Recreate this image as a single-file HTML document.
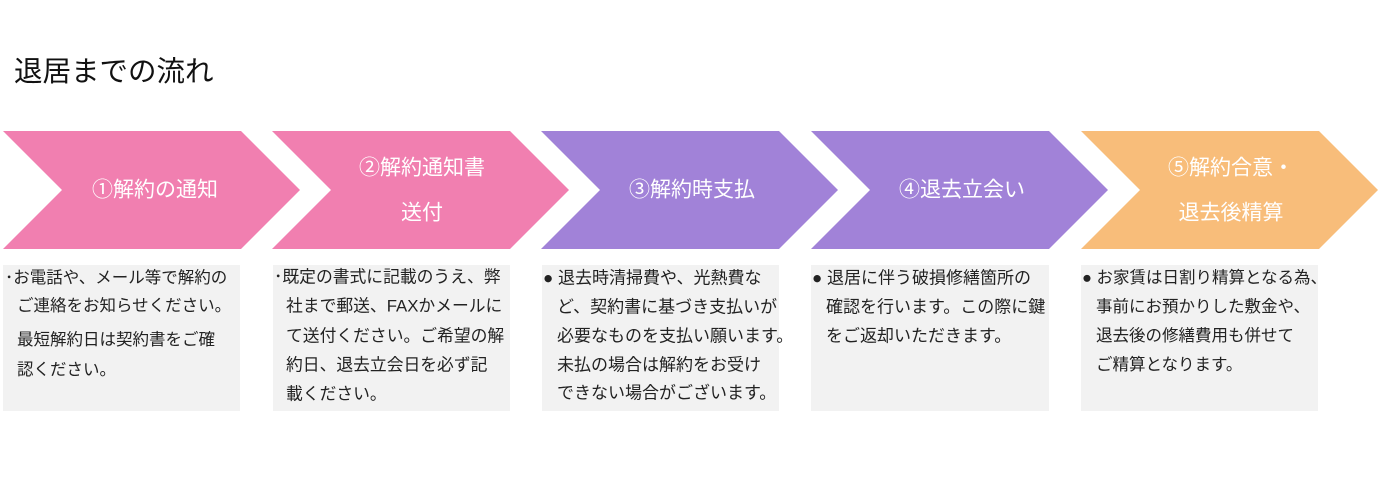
<!DOCTYPE html>
<html><head><meta charset="utf-8"><style>
body{margin:0;width:1392px;height:486px;background:#fff;position:relative;overflow:hidden;font-family:"Liberation Sans","Noto Sans CJK JP",sans-serif;}
.t{position:absolute;white-space:nowrap;line-height:1;}
.box{position:absolute;top:265px;height:146px;width:237px;background:#f2f2f2;}
.w{color:#fff;font-size:21px;transform:translate(-50%,-50%);}
.l{color:#222;transform:translateY(-50%);}
</style></head><body>
<div class="t" style="left:14px;top:58px;font-size:28.5px;color:#111;">退居までの流れ</div>
<svg width="1392" height="486" style="position:absolute;left:0;top:0">
<polygon points="3,131 241,131 300,190 241,249 3,249 62,190" fill="#f17fb0"/>
<polygon points="272,131 510,131 569,190 510,249 272,249 331,190" fill="#f17fb0"/>
<polygon points="541,131 779,131 838,190 779,249 541,249 600,190" fill="#a182d8"/>
<polygon points="811,131 1049,131 1108,190 1049,249 811,249 870,190" fill="#a182d8"/>
<polygon points="1081,131 1319,131 1378,190 1319,249 1081,249 1140,190" fill="#f8bd7a"/>
</svg>
<div class="t w" style="left:155px;top:190px">①解約の通知</div>
<div class="t w" style="left:422px;top:168px">②解約通知書</div>
<div class="t w" style="left:422px;top:213px">送付</div>
<div class="t w" style="left:692px;top:190px">③解約時支払</div>
<div class="t w" style="left:962px;top:190px">④退去立会い</div>
<div class="t w" style="left:1231px;top:168px">⑤解約合意・</div>
<div class="t w" style="left:1231px;top:213px">退去後精算</div>

<div class="box" style="left:3px"></div>
<div class="box" style="left:273px"></div>
<div class="box" style="left:542px"></div>
<div class="box" style="left:811px;width:238px"></div>
<div class="box" style="left:1081px"></div>

<div class="t l" style="left:5px;top:278px;font-size:16.5px">･お電話や、メール等で解約の</div>
<div class="t l" style="left:17px;top:306px;font-size:16.5px">ご連絡をお知らせください。</div>
<div class="t l" style="left:17px;top:340px;font-size:16.5px">最短解約日は契約書をご確</div>
<div class="t l" style="left:17px;top:370px;font-size:16.5px">認ください。</div>

<div class="t l" style="left:274px;top:278px;font-size:16.8px">･既定の書式に記載のうえ、弊</div>
<div class="t l" style="left:286px;top:307px;font-size:16.8px">社まで郵送、FAXかメールに</div>
<div class="t l" style="left:286px;top:337px;font-size:16.8px">て送付ください。ご希望の解</div>
<div class="t l" style="left:286px;top:366px;font-size:16.8px">約日、退去立会日を必ず記</div>
<div class="t l" style="left:286px;top:395px;font-size:16.8px">載ください。</div>

<div class="t l" style="left:543px;top:278px;font-size:17px">● 退去時清掃費や、光熱費な</div>
<div class="t l" style="left:557px;top:307px;font-size:17px">ど、契約書に基づき支払いが</div>
<div class="t l" style="left:557px;top:336px;font-size:17px">必要なものを支払い願います。</div>
<div class="t l" style="left:557px;top:365px;font-size:17px">未払の場合は解約をお受け</div>
<div class="t l" style="left:557px;top:393px;font-size:17px">できない場合がございます。</div>

<div class="t l" style="left:812px;top:278px;font-size:17px">● 退居に伴う破損修繕箇所の</div>
<div class="t l" style="left:826px;top:307px;font-size:17px">確認を行います。この際に鍵</div>
<div class="t l" style="left:826px;top:336px;font-size:17px">をご返却いただきます。</div>

<div class="t l" style="left:1082px;top:278px;font-size:16.5px">● お家賃は日割り精算となる為、</div>
<div class="t l" style="left:1096px;top:307px;font-size:16.5px">事前にお預かりした敷金や、</div>
<div class="t l" style="left:1096px;top:336px;font-size:16.5px">退去後の修繕費用も併せて</div>
<div class="t l" style="left:1096px;top:365px;font-size:16.5px">ご精算となります。</div>
</body></html>
